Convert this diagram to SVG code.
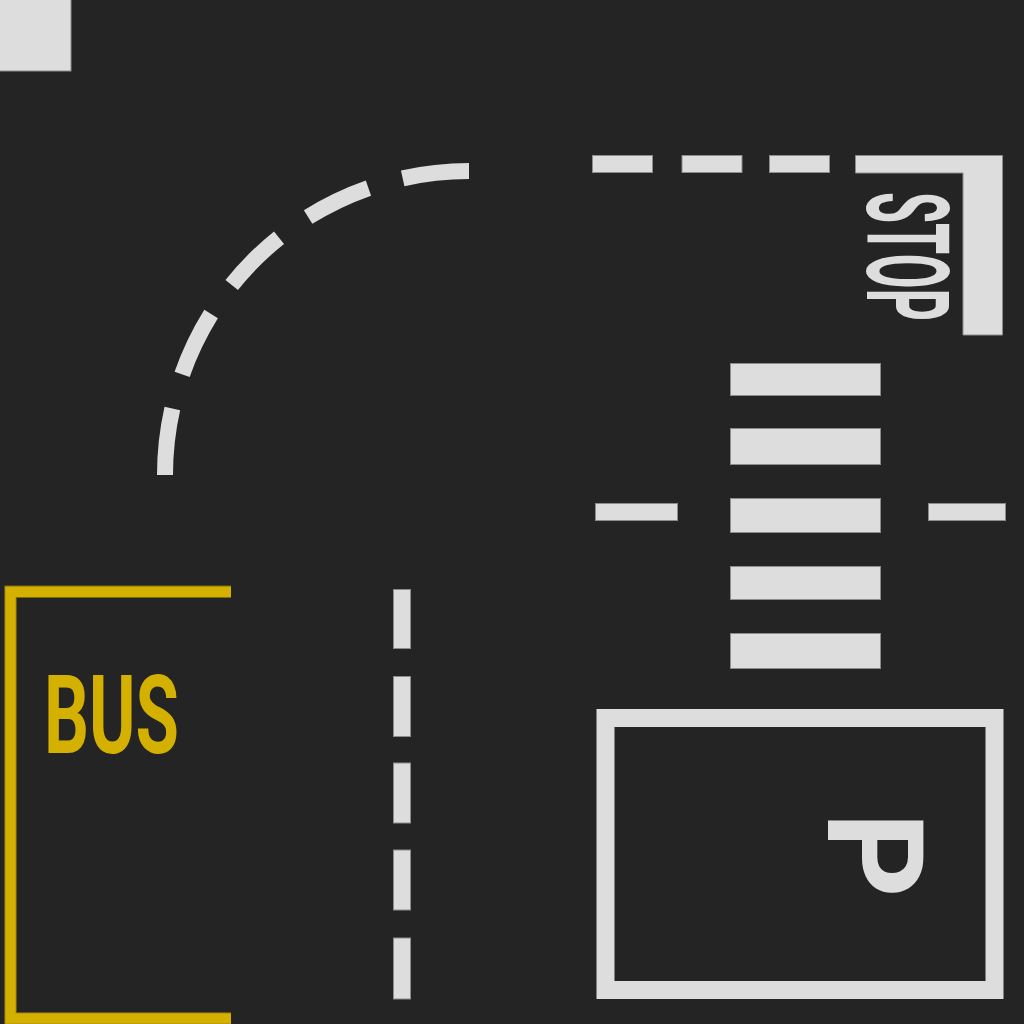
<svg xmlns="http://www.w3.org/2000/svg" width="1024" height="1024" viewBox="0 0 1024 1024">
  <style>
    .w { fill: #dddddd; stroke: #8c8c8c; stroke-width: 1; }
    .wt { fill: #dddddd; font-family: Roboto, "Liberation Sans", sans-serif; font-weight: 700; }
    .yt { fill: #d4b000; font-family: Roboto, "Liberation Sans", sans-serif; font-weight: 700; }
  </style>
  <rect x="0" y="0" width="1024" height="1024" fill="#242424"/>

  <g id="corner-block">
    <rect class="w" x="-1" y="-1" width="72" height="72"/>
  </g>

  <g id="curve-arc">
    <path d="M165 475 A304 304 0 0 1 469 171" fill="none" stroke="#dddddd" stroke-width="16" stroke-dasharray="67 35.6"/>
  </g>

  <g id="stop-line">
    <rect class="w" x="592.5" y="155.5" width="60" height="17"/>
    <rect class="w" x="682" y="155.5" width="60" height="17"/>
    <rect class="w" x="769.5" y="155.5" width="60" height="17"/>
    <path class="w" d="M855.5 155.5 H1002.5 V335 H963 V173 H855.5 Z"/>
    <text class="wt" transform="translate(867,192) rotate(90)" x="0" y="0" font-size="115" textLength="129" lengthAdjust="spacingAndGlyphs">STOP</text>
  </g>

  <g id="crosswalk">
    <rect class="w" x="730.5" y="363.5" width="150" height="32"/>
    <rect class="w" x="730.5" y="428.5" width="150" height="36"/>
    <rect class="w" x="730.5" y="498.5" width="150" height="34"/>
    <rect class="w" x="730.5" y="566.5" width="150" height="33"/>
    <rect class="w" x="730.5" y="633.5" width="150" height="35"/>
    <rect class="w" x="595.5" y="503.5" width="82" height="17"/>
    <rect class="w" x="928.5" y="503.5" width="77" height="17"/>
  </g>

  <g id="lane-divider">
    <rect class="w" x="393.5" y="589.5" width="17" height="59"/>
    <rect class="w" x="393.5" y="676.5" width="17" height="60"/>
    <rect class="w" x="393.5" y="763" width="17" height="60"/>
    <rect class="w" x="393.5" y="850" width="17" height="60"/>
    <rect class="w" x="393.5" y="938" width="17" height="61"/>
  </g>

  <g id="bus-bay">
    <path d="M231 591.8 H10.5 V1018.5 H231" fill="none" stroke="#7d6a10" stroke-width="12.5"/>
    <path d="M231 591.8 H10.5 V1018.5 H231" fill="none" stroke="#d4b000" stroke-width="10.5"/>
    <text class="yt" x="44" y="753" font-size="110" textLength="135" lengthAdjust="spacingAndGlyphs">BUS</text>
  </g>

  <g id="parking-bay">
    <rect x="605.5" y="718" width="389" height="272" fill="none" stroke="#dddddd" stroke-width="18"/>
    <text class="wt" transform="translate(828,812) rotate(90)" x="0" y="0" font-size="133">P</text>
  </g>
</svg>
